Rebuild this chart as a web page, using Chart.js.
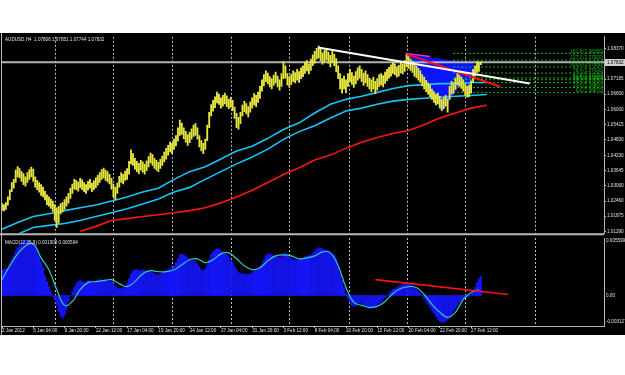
<!DOCTYPE html>
<html>
<head>
<meta charset="utf-8">
<script src="https://cdn.jsdelivr.net/npm/chart.js@4/dist/chart.umd.min.js"></script>
<style>
  html, body { margin: 0; padding: 0; background: #fff; width: 625px; height: 375px; overflow: hidden; }
  #term { position: absolute; left: 0; top: 33px; width: 625px; height: 302px; background: #000; }
  #pricePane { position: absolute; left: 0; top: 0; }
  #macdPane { position: absolute; left: 0; top: 204px; }
</style>
</head>
<body>
<div id="term">
  <canvas id="pricePane" width="625" height="204"></canvas>
  <canvas id="macdPane" width="625" height="98"></canvas>
</div>
<script>
// ---- data (AUDUSD H4, bar index 0 = 2 Jan 2012 00:00) ----
const highs = [
  1.0236,1.0232,1.0240,1.0262,1.0290,1.0318,1.0330,1.0366,1.0380,1.0372,
  1.0360,1.0352,1.0340,1.0356,1.0368,1.0378,1.0370,1.0340,1.0326,1.0318,
  1.0310,1.0300,1.0284,1.0270,1.0262,1.0254,1.0246,1.0232,1.0220,1.0226,
  1.0236,1.0240,1.0252,1.0262,1.0276,1.0296,1.0312,1.0330,1.0326,1.0320,
  1.0334,1.0328,1.0318,1.0310,1.0322,1.0330,1.0316,1.0324,1.0336,1.0346,
  1.0356,1.0368,1.0374,1.0366,1.0360,1.0350,1.0334,1.0312,1.0300,1.0316,
  1.0342,1.0356,1.0350,1.0362,1.0372,1.0400,1.0444,1.0430,1.0412,1.0400,
  1.0392,1.0404,1.0398,1.0388,1.0402,1.0418,1.0432,1.0426,1.0412,1.0404,
  1.0396,1.0408,1.0420,1.0436,1.0450,1.0462,1.0474,1.0470,1.0486,1.0500,
  1.0530,1.0560,1.0548,1.0530,1.0516,1.0504,1.0512,1.0526,1.0540,1.0546,
  1.0530,1.0500,1.0480,1.0470,1.0486,1.0540,1.0590,1.0620,1.0636,1.0650,
  1.0668,1.0660,1.0646,1.0656,1.0664,1.0654,1.0640,1.0648,1.0636,1.0610,
  1.0586,1.0570,1.0590,1.0618,1.0632,1.0624,1.0612,1.0630,1.0646,1.0662,
  1.0656,1.0668,1.0690,1.0716,1.0736,1.0750,1.0742,1.0728,1.0720,1.0734,
  1.0746,1.0730,1.0716,1.0740,1.0786,1.0770,1.0740,1.0728,1.0738,1.0750,
  1.0744,1.0756,1.0748,1.0762,1.0770,1.0784,1.0790,1.0778,1.0796,1.0812,
  1.0826,1.0838,1.0846,1.0836,1.0820,1.0830,1.0834,1.0822,1.0810,1.0826,
  1.0814,1.0798,1.0770,1.0740,1.0720,1.0730,1.0716,1.0740,1.0756,1.0744,
  1.0730,1.0748,1.0762,1.0770,1.0756,1.0742,1.0750,1.0736,1.0722,1.0716,
  1.0726,1.0710,1.0720,1.0736,1.0740,1.0732,1.0746,1.0756,1.0764,1.0774,
  1.0784,1.0778,1.0766,1.0772,1.0786,1.0778,1.0790,1.0814,1.0806,1.0796,
  1.0788,1.0776,1.0768,1.0760,1.0750,1.0736,1.0726,1.0714,1.0704,1.0696,
  1.0680,1.0670,1.0660,1.0664,1.0652,1.0640,1.0648,1.0656,1.0642,1.0690,
  1.0710,1.0704,1.0722,1.0740,1.0734,1.0726,1.0716,1.0700,1.0690,1.0696,
  1.0712,1.0756,1.0770,1.0786,1.0782,1.0785
];
const lows = [
  1.0210,1.0208,1.0214,1.0230,1.0250,1.0282,1.0296,1.0318,1.0340,1.0336,
  1.0322,1.0310,1.0304,1.0318,1.0330,1.0340,1.0322,1.0300,1.0290,1.0280,
  1.0268,1.0262,1.0250,1.0232,1.0226,1.0218,1.0206,1.0170,1.0144,1.0160,
  1.0196,1.0204,1.0214,1.0226,1.0238,1.0256,1.0276,1.0292,1.0290,1.0284,
  1.0298,1.0290,1.0282,1.0276,1.0288,1.0296,1.0282,1.0290,1.0298,1.0308,
  1.0318,1.0330,1.0336,1.0326,1.0320,1.0312,1.0292,1.0262,1.0250,1.0276,
  1.0300,1.0318,1.0312,1.0326,1.0330,1.0350,1.0390,1.0384,1.0370,1.0360,
  1.0352,1.0366,1.0358,1.0350,1.0364,1.0378,1.0394,1.0384,1.0372,1.0366,
  1.0360,1.0372,1.0384,1.0398,1.0408,1.0424,1.0436,1.0430,1.0446,1.0460,
  1.0478,1.0500,1.0504,1.0488,1.0474,1.0462,1.0472,1.0486,1.0496,1.0500,
  1.0486,1.0456,1.0440,1.0430,1.0446,1.0480,1.0530,1.0576,1.0594,1.0608,
  1.0626,1.0620,1.0606,1.0614,1.0622,1.0612,1.0604,1.0610,1.0596,1.0566,
  1.0530,1.0524,1.0546,1.0576,1.0592,1.0584,1.0572,1.0590,1.0606,1.0618,
  1.0612,1.0628,1.0644,1.0672,1.0692,1.0708,1.0700,1.0688,1.0680,1.0694,
  1.0704,1.0688,1.0676,1.0690,1.0720,1.0722,1.0696,1.0686,1.0698,1.0708,
  1.0704,1.0714,1.0706,1.0720,1.0728,1.0740,1.0750,1.0738,1.0752,1.0770,
  1.0780,1.0796,1.0800,1.0790,1.0776,1.0786,1.0792,1.0780,1.0766,1.0782,
  1.0770,1.0746,1.0720,1.0680,1.0664,1.0680,1.0666,1.0690,1.0708,1.0698,
  1.0686,1.0700,1.0714,1.0722,1.0708,1.0694,1.0704,1.0690,1.0680,1.0670,
  1.0680,1.0662,1.0676,1.0690,1.0696,1.0688,1.0702,1.0712,1.0722,1.0730,
  1.0740,1.0736,1.0726,1.0730,1.0742,1.0738,1.0748,1.0766,1.0760,1.0752,
  1.0744,1.0730,1.0724,1.0714,1.0706,1.0692,1.0680,1.0670,1.0660,1.0650,
  1.0640,1.0628,1.0618,1.0622,1.0606,1.0596,1.0604,1.0614,1.0590,1.0640,
  1.0660,1.0664,1.0678,1.0696,1.0690,1.0682,1.0672,1.0656,1.0648,1.0650,
  1.0664,1.0706,1.0730,1.0744,1.0748,1.0774
];

// moving averages, one value every MA_STEP bars
const MA_STEP = 8;
const maFastVals = [
  1.0137,1.0163,1.0186,1.0197,1.0209,1.0220,1.0231,1.0246,1.0262,1.0281,
  1.0296,1.0330,1.0360,1.0379,1.0409,1.0440,1.0458,1.0489,1.0523,1.0549,
  1.0587,1.0621,1.0640,1.0652,1.0667,1.0682,1.0693,1.0697,1.0701,1.0701,
  1.0705,1.0705
];
const maMidVals = [
  1.0103,1.0118,1.0144,1.0152,1.0159,1.0171,1.0186,1.0201,1.0216,1.0235,
  1.0254,1.0281,1.0299,1.0330,1.0360,1.0390,1.0417,1.0447,1.0485,1.0515,
  1.0538,1.0568,1.0595,1.0606,1.0621,1.0633,1.0640,1.0644,1.0648,1.0652,
  1.0655,1.0659
];
const maSlowStart = 40;
const maSlowVals = [
  1.0129,1.0148,1.0171,1.0178,1.0186,1.0193,1.0201,1.0209,1.0220,1.0239,
  1.0262,1.0288,1.0318,1.0349,1.0375,1.0405,1.0424,1.0451,1.0474,1.0492,
  1.0508,1.0519,1.0542,1.0568,1.0587,1.0606,1.0617
];

// MACD(12,26,9)
const macdVals = [
  0.0026,0.0026,0.0027,0.0028,0.0032,0.0036,0.0040,0.0045,0.0048,0.0050,
  0.0053,0.0055,0.0056,0.0055,0.0055,0.0054,0.0052,0.0050,0.0046,0.0040,
  0.0034,0.0028,0.0020,0.0014,0.0009,0.0004,-0.0001,-0.0004,-0.0010,-0.0016,
  -0.0021,-0.0023,-0.0020,-0.0014,-0.0006,0.0000,0.0004,0.0008,0.0012,0.0014,
  0.0015,0.0014,0.0013,0.0014,0.0015,0.0015,0.0014,0.0013,0.0014,0.0015,
  0.0016,0.0016,0.0015,0.0016,0.0016,0.0015,0.0014,0.0012,0.0010,0.0008,
  0.0007,0.0007,0.0008,0.0009,0.0012,0.0017,0.0022,0.0025,0.0026,0.0026,
  0.0025,0.0025,0.0026,0.0025,0.0024,0.0025,0.0024,0.0023,0.0022,0.0021,
  0.0021,0.0022,0.0023,0.0024,0.0025,0.0026,0.0027,0.0028,0.0030,0.0033,
  0.0037,0.0041,0.0042,0.0041,0.0040,0.0038,0.0036,0.0035,0.0035,0.0034,
  0.0032,0.0029,0.0026,0.0025,0.0027,0.0031,0.0036,0.0041,0.0044,0.0046,
  0.0047,0.0047,0.0045,0.0044,0.0043,0.0041,0.0039,0.0036,0.0033,0.0029,
  0.0026,0.0023,0.0022,0.0022,0.0022,0.0021,0.0021,0.0022,0.0023,0.0025,
  0.0026,0.0027,0.0029,0.0032,0.0036,0.0040,0.0042,0.0042,0.0041,0.0040,
  0.0040,0.0039,0.0038,0.0039,0.0042,0.0043,0.0041,0.0039,0.0037,0.0036,
  0.0036,0.0036,0.0036,0.0037,0.0038,0.0039,0.0040,0.0040,0.0041,0.0043,
  0.0045,0.0047,0.0048,0.0048,0.0047,0.0046,0.0046,0.0045,0.0043,0.0042,
  0.0041,0.0037,0.0030,0.0022,0.0015,0.0008,0.0002,-0.0003,-0.0007,-0.0010,
  -0.0011,-0.0010,-0.0008,-0.0007,-0.0008,-0.0010,-0.0011,-0.0012,-0.0013,-0.0013,
  -0.0012,-0.0012,-0.0010,-0.0008,-0.0006,-0.0004,-0.0002,0.0000,0.0002,0.0004,
  0.0006,0.0007,0.0008,0.0009,0.0010,0.0011,0.0012,0.0013,0.0012,0.0011,
  0.0010,0.0008,0.0006,0.0004,0.0002,0.0000,-0.0003,-0.0006,-0.0009,-0.0012,
  -0.0015,-0.0018,-0.0021,-0.0024,-0.0026,-0.0027,-0.0027,-0.0026,-0.0025,-0.0022,
  -0.0019,-0.0016,-0.0013,-0.0010,-0.0007,-0.0005,-0.0003,-0.0002,-0.0002,-0.0001,
  0.0001,0.0004,0.0008,0.0013,0.0017,0.0019
];
const SIG_STEP = 4;
const signalVals = [
  0.0016,0.0030,0.0042,0.0050,0.0052,0.0038,0.0026,0.0006,-0.0010,-0.0006,
  0.0006,0.0013,0.0014,0.0015,0.0016,0.0012,0.0009,0.0014,0.0022,0.0025,
  0.0024,0.0024,0.0026,0.0031,0.0036,0.0037,0.0033,0.0036,0.0042,0.0043,
  0.0037,0.0030,0.0026,0.0028,0.0035,0.0040,0.0041,0.0040,0.0037,0.0038,
  0.0040,0.0044,0.0043,0.0030,0.0008,-0.0007,-0.0010,-0.0012,-0.0011,-0.0006,
  0.0002,0.0007,0.0009,0.0008,0.0001,-0.0009,-0.0017,-0.0022,-0.0017,-0.0004,
  0.0003,0.0006
];

// axes
const priceTicks = [1.08370,1.07185,1.06600,1.06000,1.05415,1.04830,1.04230,1.03645,1.03060,1.02460,1.01875,1.01290];
const macdTickVals = [0.005599, 0, -0.003127];
const macdTickText = ["0.005599", "0.00", "-0.003127"];
const timeBars = [0,16,32,48,64,80,96,112,128,144,160,176,192,208,224,240];
const timeLabels = ["2 Jan 2012","5 Jan 04:00","9 Jan 20:00","12 Jan 12:00","17 Jan 04:00","19 Jan 20:00",
  "24 Jan 12:00","27 Jan 04:00","31 Jan 20:00","3 Feb 12:00","8 Feb 04:00","10 Feb 20:00",
  "15 Feb 12:00","20 Feb 04:00","22 Feb 20:00","27 Feb 12:00"];
const weekBars = [27, 57, 87, 117, 147, 177.5, 207, 237, 272.5];

// objects drawn on the chart
const lastPrice = 1.07832;
const whiteLineBars = [161.7, 270];
const whiteLinePrices = [1.0841, 1.0701];
const redLineBars = [207.3, 255];
const redLinePrices = [1.0814, 1.0689];
const pinkLineBars = [206.5, 219];
const pinkLinePrices = [1.0818, 1.0806];
const macdLineBars = [191, 259];
const macdLineVals = [0.0016, 0.0001];
const fibStartBar = 230.8;
const fibLevels = ["161.8","127.2","100.0","76.4","61.8","50.0","38.2","23.6","0.0"];
const fibPrices = [1.0818, 1.0792, 1.0765, 1.0742, 1.0723, 1.0716, 1.0705, 1.0686, 1.0667];
const triA_bars = [207.3, 225.2, 241.6];
const triA_prices = [1.0814, 1.0591, 1.0780];
const triB_bars = [241.6, 239.5, 235.4];
const triB_prices = [1.0780, 1.0648, 1.0735];

const X_MAX = 308;
const FONT = "'Liberation Sans', Arial, sans-serif";
const TXT = "#e0e0e0";
const FRAME = "#b8b8b8";

function pts(bars, vals){ return bars.map((b,i)=>({x:b, y:vals[i]})); }
function stepPts(start, step, vals){ return vals.map((v,i)=>({x:start + i*step, y:v})); }

function line(data, color, width, order, dash){
  return { type:"line", data, borderColor:color, borderWidth:width, pointRadius:0,
           borderDash: dash || [], tension:0, order, fill:false };
}

const weeklyGrid = {
  id:"weeklyGrid",
  beforeDatasetsDraw(chart){
    const {ctx, chartArea:a, scales:{x}} = chart;
    ctx.save();
    ctx.strokeStyle = "#bdbdbd";
    ctx.lineWidth = 1;
    ctx.setLineDash([2,2]);
    weekBars.forEach(b=>{
      const px = Math.round(x.getPixelForValue(b)) + 0.5;
      ctx.beginPath(); ctx.moveTo(px, a.top); ctx.lineTo(px, a.bottom); ctx.stroke();
    });
    ctx.setLineDash([]);
    ctx.strokeStyle = FRAME;
    ctx.beginPath(); ctx.moveTo(1.5, 0); ctx.lineTo(1.5, chart.height); ctx.stroke();
    ctx.restore();
  }
};

const priceDecor = {
  id:"priceDecor",
  beforeDatasetsDraw(chart){
    const {ctx, scales:{x, y}} = chart;
    ctx.save();
    ctx.fillStyle = "#0a14ff";
    [[triA_bars, triA_prices],[triB_bars, triB_prices]].forEach(([bs, ps])=>{
      ctx.beginPath();
      bs.forEach((b,i)=>{
        const px = x.getPixelForValue(b), py = y.getPixelForValue(ps[i]);
        if (i === 0) ctx.moveTo(px, py); else ctx.lineTo(px, py);
      });
      ctx.closePath(); ctx.fill();
    });
    ctx.restore();
  },
  afterDraw(chart){
    const {ctx, chartArea:a, scales:{y}} = chart;
    ctx.save();
    ctx.font = "4.6px " + FONT;
    ctx.textBaseline = "middle";
    // header
    ctx.fillStyle = TXT;
    ctx.textAlign = "left";
    ctx.fillText("AUDUSD,H4  1.07806 1.07851 1.07744 1.07832", 5, 6.5);
    // fibo labels
    ctx.fillStyle = "#10c010";
    ctx.textAlign = "right";
    fibLevels.forEach((lv,i)=>{
      ctx.fillText(lv + " (" + fibPrices[i].toFixed(5) + ")", a.right - 1, y.getPixelForValue(fibPrices[i]) - 2);
    });
    // bid label
    const py = Math.round(y.getPixelForValue(lastPrice));
    ctx.fillStyle = "#d0d0d0";
    ctx.fillRect(a.right + 1, py - 3, 20, 7);
    ctx.fillStyle = "#000";
    ctx.textAlign = "left";
    ctx.fillText(lastPrice.toFixed(5), a.right + 3, py + 0.5);
    // pane separator
    ctx.strokeStyle = FRAME;
    ctx.lineWidth = 2;
    ctx.beginPath(); ctx.moveTo(0, a.bottom + 1); ctx.lineTo(a.right, a.bottom + 1); ctx.stroke();
    ctx.restore();
  }
};

const macdDecor = {
  id:"macdDecor",
  afterDraw(chart){
    const {ctx, chartArea:a, scales:{y}} = chart;
    ctx.save();
    ctx.font = "4.6px " + FONT;
    ctx.textBaseline = "middle";
    ctx.fillStyle = TXT;
    ctx.fillText("MACD(12,26,9) 0.001908 0.000594", 5, a.top + 5);
    macdTickVals.forEach((v,i)=>{
      let py = y.getPixelForValue(v);
      py = Math.min(Math.max(py, a.top + 3), a.bottom - 4);
      ctx.fillText(macdTickText[i], a.right + 2, py);
    });
    ctx.restore();
  }
};

const NO_ANIM = { animation:false, responsive:false, events:[] };
const quiet = { legend:{display:false}, tooltip:{enabled:false} };

const priceSets = [
  line(pts(whiteLineBars, whiteLinePrices), "#ffffff", 2, 0),
  line(pts(redLineBars, redLinePrices), "#ff1010", 2, 0),
  line(pts(pinkLineBars, pinkLinePrices), "#e030e0", 1.5, 0),
  line([{x:0, y:lastPrice},{x:X_MAX, y:lastPrice}], "#b4b4b4", 2, 5),
  { type:"bar", data: highs.map((h,i)=>({x:i, y:[lows[i], h]})), backgroundColor:"#e6e640",
    barThickness:1.2, grouped:false, order:1 },
  line(stepPts(0, MA_STEP, maFastVals), "#18c4f4", 1.6, 2),
  line(stepPts(0, MA_STEP, maMidVals), "#18c4f4", 1.6, 2),
  line(stepPts(maSlowStart, MA_STEP, maSlowVals), "#ff1414", 1.6, 2)
];
fibPrices.forEach(p=>{
  priceSets.push(line([{x:fibStartBar, y:p},{x:X_MAX, y:p}], "#12b812", 1, 4, [2,2]));
});

new Chart(document.getElementById("pricePane"), {
  type:"bar",
  data:{ datasets: priceSets },
  options:{
    ...NO_ANIM,
    layout:{ padding:{ left:2, top:2, right:0, bottom:1 } },
    plugins: quiet,
    scales:{
      x:{ type:"linear", min:0, max:X_MAX, offset:false, display:false },
      y:{ position:"right", min:1.01214, max:1.08824,
          afterFit(s){ s.width = 21; },
          afterBuildTicks(s){ s.ticks = priceTicks.map(v=>({value:v})); },
          ticks:{ color:TXT, autoSkip:false, padding:1, font:{family:FONT, size:4.6},
                  callback:v=>Number(v).toFixed(5) },
          grid:{ drawOnChartArea:false, color:FRAME, tickLength:2 },
          border:{ color:FRAME } }
    }
  },
  plugins:[weeklyGrid, priceDecor]
});

new Chart(document.getElementById("macdPane"), {
  type:"bar",
  data:{ datasets:[
    line(pts(macdLineBars, macdLineVals), "#ff1010", 1.6, 0),
    { ...line(stepPts(0, SIG_STEP, signalVals), "#34c6c0", 1.2, 1), tension:0.4 },
    { type:"bar", data: macdVals.map((v,i)=>({x:i, y:v})), backgroundColor:"#1414f4",
      barThickness:1.5, grouped:false, order:2 }
  ]},
  options:{
    ...NO_ANIM,
    layout:{ padding:{ left:2, top:1, right:0, bottom:0 } },
    plugins: quiet,
    scales:{
      x:{ type:"linear", min:0, max:X_MAX, offset:false,
          afterFit(s){ s.height = 9; },
          afterBuildTicks(s){ s.ticks = timeBars.map(v=>({value:v})); },
          ticks:{ color:TXT, autoSkip:false, maxRotation:0, align:"start", padding:0,
                  font:{family:FONT, size:4.6}, callback:(v,i)=>timeLabels[i] },
          grid:{ drawOnChartArea:false, offset:false, color:FRAME, tickLength:2 },
          border:{ color:FRAME } },
      y:{ position:"right", min:-0.00308, max:0.0058,
          afterFit(s){ s.width = 21; },
          ticks:{ display:false },
          grid:{ display:false },
          border:{ color:FRAME } }
    }
  },
  plugins:[weeklyGrid, macdDecor]
});
</script>
</body>
</html>
